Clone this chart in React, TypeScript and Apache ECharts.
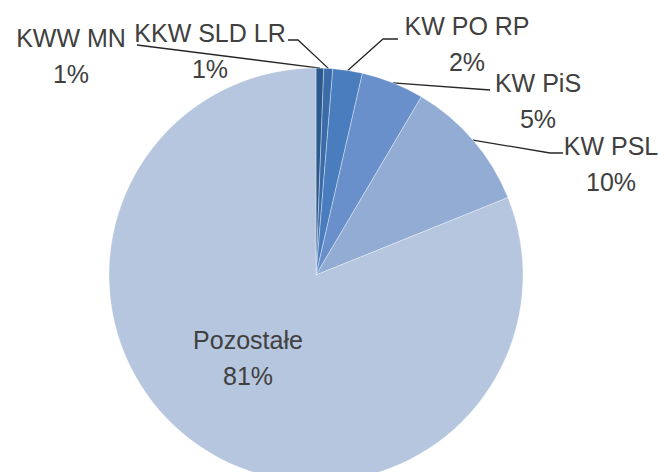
import React, { useEffect, useRef } from "react";
import * as echarts from "echarts";

const categories = ["KWW MN", "KKW SLD LR", "KW PO RP", "KW PiS", "KW PSL", "Pozostałe"];
const values = [0.6, 0.7, 2.3, 4.9, 10.4, 81.1];
const colors = ["#2c5a8e", "#3b6ba8", "#4a7dbd", "#6990cb", "#93acd3", "#b5c6de"];

// label centre positions (layout) and leader-line bend points
const labelPos: [number, number][] = [
  [71, 56],
  [210, 51],
  [467, 44],
  [538, 101],
  [611, 164],
  [248, 358],
];
const leaderBends: [number, number][][] = [
  [[137, 45]],
  [[298, 40], [288, 40]],
  [[383, 39], [398, 39]],
  [[490, 90]],
  [[550, 153], [563, 153]],
  [],
];

const CX = 316;
const CY = 275;
const R = 207;

export default function App() {
  const ref = useRef<HTMLDivElement>(null);
  useEffect(() => {
    document.body.style.margin = "0";
    if (!ref.current) return;
    const chart = echarts.init(ref.current, undefined, { renderer: "svg" });
    const total = values.reduce((a, b) => a + b, 0);
    const edgePoint = (i: number): number[] => {
      let cum = 0;
      for (let k = 0; k < i; k++) cum += values[k];
      const mid = (cum + values[i] / 2) / total;
      const ang = mid * Math.PI * 2;
      return [CX + R * Math.sin(ang), CY - R * Math.cos(ang)];
    };
    chart.setOption({
      animation: false,
      backgroundColor: "#ffffff",
      series: [
        {
          type: "pie",
          center: [CX, CY],
          radius: R,
          startAngle: 90,
          clockwise: true,
          avoidLabelOverlap: false,
          itemStyle: { borderColor: "rgba(255,255,255,0.45)", borderWidth: 0.8 },
          label: {
            show: true,
            position: "outside",
            fontFamily: "Liberation Sans",
            fontSize: 25,
            lineHeight: 36,
            color: "#404040",
            align: "center",
            formatter: (p: any) => `${p.name}\n${Math.round(p.percent)}%`,
          },
          labelLine: {
            show: true,
            lineStyle: { color: "#262626", width: 1.3 },
          },
          labelLayout: (p: any) => {
            const i = p.dataIndex;
            const start = edgePoint(i);
            const pts = [start, ...leaderBends[i]];
            return {
              x: labelPos[i][0],
              y: labelPos[i][1],
              align: "center",
              verticalAlign: "middle",
              labelLinePoints: pts.length > 1 ? pts : undefined,
            };
          },
          data: categories.map((name, i) => ({
            name,
            value: values[i],
            itemStyle: { color: colors[i] },
            ...(i === categories.length - 1
              ? { label: { position: "inside" }, labelLine: { show: false } }
              : {}),
          })),
        },
      ],
    });
    return () => chart.dispose();
  }, []);
  return <div ref={ref} style={{ width: 659, height: 472 }} />;
}
